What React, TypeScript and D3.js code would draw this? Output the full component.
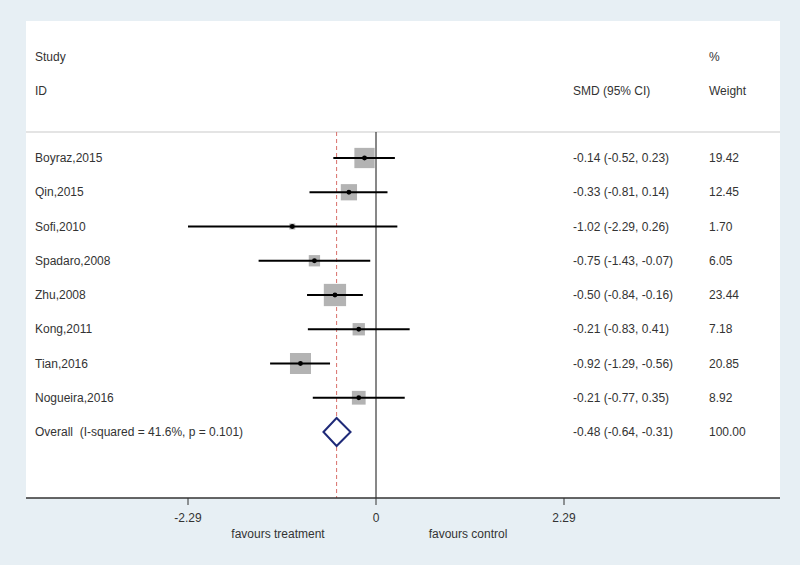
import React from "react";
import * as d3 from "d3";

const studies = ["Boyraz,2015", "Qin,2015", "Sofi,2010", "Spadaro,2008", "Zhu,2008", "Kong,2011", "Tian,2016", "Nogueira,2016"];
const smd = [-0.14, -0.33, -1.02, -0.75, -0.5, -0.21, -0.92, -0.21];
const lower = [-0.52, -0.81, -2.29, -1.43, -0.84, -0.83, -1.29, -0.77];
const upper = [0.23, 0.14, 0.26, -0.07, -0.16, 0.41, -0.56, 0.35];
const weights = [19.42, 12.45, 1.7, 6.05, 23.44, 7.18, 20.85, 8.92];
const overallLabel = "Overall  (I-squared = 41.6%, p = 0.101)";
const overall = { est: -0.48, lo: -0.64, hi: -0.31, weight: 100.0 };
const xTicks = [-2.29, 0, 2.29];

const W = 800;
const H = 565;
const FONT = "'Liberation Sans', Arial, sans-serif";
const TXT = "#333";

export default function App() {
  const x = d3.scaleLinear().domain([-2.29, 2.29]).range([188, 564]);
  const rows = [...studies, "__overall__"];
  const y = d3.scalePoint<string>().domain(rows).range([158, 432]);
  const boxSide = d3.scaleSqrt().domain([0, 100]).range([0, 46]);
  const fmt = (v: number) => v.toFixed(2);
  const panelL = 26, panelR = 780, panelT = 21, axisY = 498, headerY = 132;

  const oy = y("__overall__") as number;
  const diamond = [
    [x(overall.lo), oy],
    [x(overall.est), oy - 14],
    [x(overall.hi), oy],
    [x(overall.est), oy + 14],
  ];

  return (
    <div style={{ position: "absolute", left: 0, top: 0 }}>
      <svg width={W} height={H} style={{ display: "block" }} fontFamily={FONT}>
        <rect x={0} y={0} width={W} height={H} fill="#e7eff4" />
        <rect x={panelL} y={panelT} width={panelR - panelL} height={axisY - panelT} fill="#ffffff" />
        <line x1={panelL} x2={panelR} y1={headerY} y2={headerY} stroke="#c9c9c9" strokeWidth={1} />

        {/* headers */}
        <g fontSize={12} fill={TXT}>
          <text x={35} y={61}>Study</text>
          <text x={35} y={95}>ID</text>
          <text x={709} y={61}>%</text>
          <text x={573} y={95}>SMD (95% CI)</text>
          <text x={709} y={95}>Weight</text>
        </g>

        {/* reference lines */}
        <line x1={x(0)} x2={x(0)} y1={headerY} y2={axisY} stroke="#111" strokeWidth={1} />
        <line x1={x(overall.est)} x2={x(overall.est)} y1={headerY} y2={axisY} stroke="#d9706a" strokeWidth={1} strokeDasharray="4,3" />

        {/* studies */}
        {studies.map((s, i) => {
          const cy = y(s) as number;
          const side = boxSide(weights[i]);
          return (
            <g key={s}>
              <rect x={x(smd[i]) - side / 2} y={cy - side / 2} width={side} height={side} fill="#b3b3b3" />
              <line x1={x(lower[i])} x2={x(upper[i])} y1={cy} y2={cy} stroke="#000" strokeWidth={2} />
              <circle cx={x(smd[i])} cy={cy} r={2.4} fill="#000" />
              <text x={35} y={cy + 4} fontSize={12} fill={TXT}>{s}</text>
              <text x={573} y={cy + 4} fontSize={12} fill={TXT}>
                {`${fmt(smd[i])} (${fmt(lower[i])}, ${fmt(upper[i])})`}
              </text>
              <text x={709} y={cy + 4} fontSize={12} fill={TXT}>{fmt(weights[i])}</text>
            </g>
          );
        })}

        {/* overall */}
        <polygon points={diamond.map((p) => p.join(",")).join(" ")} fill="#ffffff" stroke="#1f2a78" strokeWidth={2} />
        <text x={35} y={oy + 4} fontSize={12} fill={TXT} style={{ whiteSpace: "pre" }}>{overallLabel}</text>
        <text x={573} y={oy + 4} fontSize={12} fill={TXT}>
          {`${fmt(overall.est)} (${fmt(overall.lo)}, ${fmt(overall.hi)})`}
        </text>
        <text x={709} y={oy + 4} fontSize={12} fill={TXT}>{fmt(overall.weight)}</text>

        {/* axis */}
        <line x1={panelL} x2={panelR} y1={axisY} y2={axisY} stroke="#333" strokeWidth={1.5} />
        {xTicks.map((t) => (
          <g key={t}>
            <line x1={x(t)} x2={x(t)} y1={axisY} y2={axisY + 7} stroke="#333" strokeWidth={1} />
            <text x={x(t)} y={522} fontSize={12} fill={TXT} textAnchor="middle">{t === 0 ? "0" : fmt(t)}</text>
          </g>
        ))}
        <text x={278} y={538} fontSize={12} fill={TXT} textAnchor="middle">favours treatment</text>
        <text x={468} y={538} fontSize={12} fill={TXT} textAnchor="middle">favours control</text>
      </svg>
    </div>
  );
}
